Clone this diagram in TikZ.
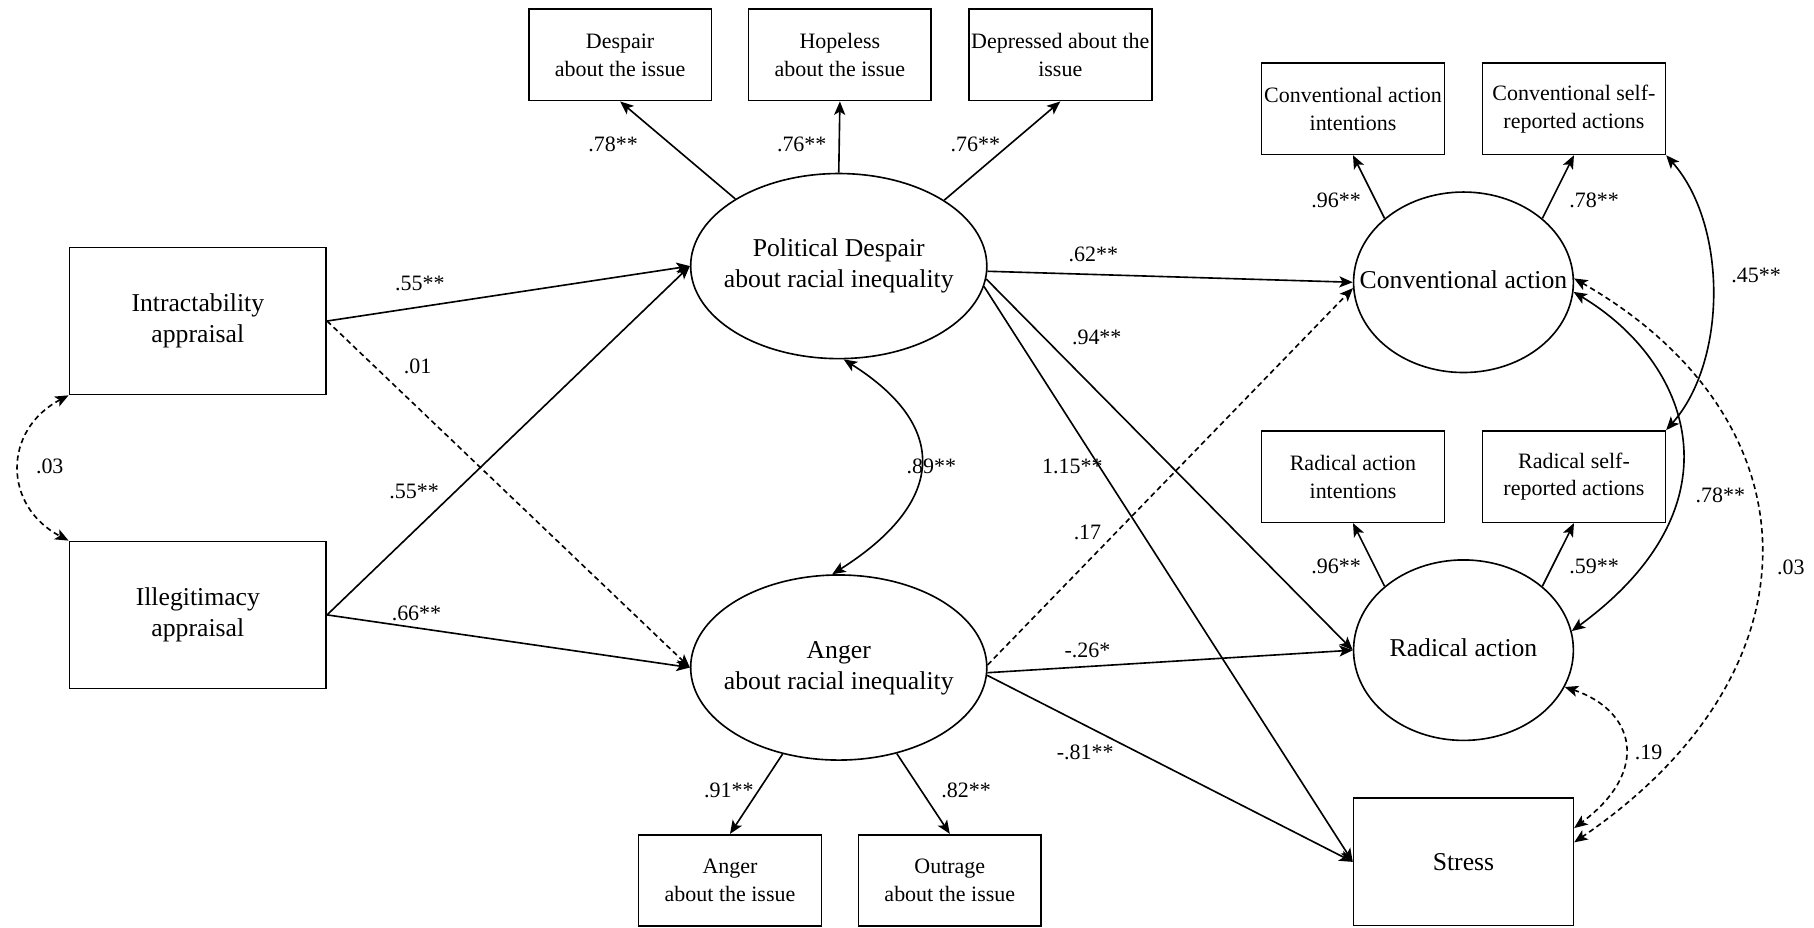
\documentclass[tikz,border=0pt]{standalone}
\usepackage{fontspec}
\setmainfont{Liberation Serif}
\usetikzlibrary{arrows.meta,shapes.geometric}

% text inside an ellipse that should not enlarge the ellipse
\newcommand{\lattext}[1]{\makebox[0pt]{\begin{tabular}{@{}c@{}}#1\end{tabular}}}

\tikzset{
  big/.style={font=\fontsize{11.1}{13.5}\selectfont},
  obs/.style={draw, rectangle, inner sep=0pt, align=center, line width=0.7pt},
  ind/.style={obs, minimum width=79pt, minimum height=39.5pt, font=\fontsize{9.5}{12}\selectfont},
  pred/.style={obs, big, minimum width=111pt, minimum height=63.5pt},
  lat/.style={draw, ellipse, inner sep=0pt, line width=0.7pt, big},
  latbig/.style={lat, minimum width=128pt, minimum height=80pt},
  latsmall/.style={lat, minimum width=95pt, minimum height=78pt},
  coef/.style={font=\fontsize{9.5}{11}\selectfont, inner sep=1pt},
  tip/.tip={Stealth[length=5.8pt,width=4.8pt,inset=1.4pt]},
  arr/.style={-tip, line width=0.7pt},
  cov/.style={tip-tip, line width=0.7pt},
  dsh/.style={dash pattern=on 2.3pt off 1.6pt}
}

\begin{document}
\begin{tikzpicture}[x=0.5pt,y=-0.5pt]
\useasboundingbox (0,0) rectangle (1568,802);

% exogenous appraisals
\node[pred] (intr) at (171,277.5) {Intractability\\appraisal};
\node[pred] (ille) at (171,531.5) {Illegitimacy\\appraisal};

% despair and its indicators
\node[ind] (desp) at (536,47.5) {Despair\\about the issue};
\node[ind] (hope) at (726,47.5) {Hopeless\\about the issue};
\node[ind] (depr) at (916.5,47.5) {Depressed about the\\issue};
\node[latbig] (pd) at (725,230) {\lattext{Political Despair\\about racial inequality}};

% anger and its indicators
\node[latbig] (ang) at (725,577) {\lattext{Anger\\about racial inequality}};
\node[ind] (angb) at (631,761) {Anger\\about the issue};
\node[ind] (outb) at (821,761) {Outrage\\about the issue};

% outcomes
\node[ind] (cai) at (1169.5,94) {Conventional action\\intentions};
\node[ind] (csr) at (1360.5,94) {Conventional self-\\reported actions};
\node[latsmall] (ca) at (1265,244) {\lattext{Conventional action}};
\node[ind] (rai) at (1169.5,412) {Radical action\\intentions};
\node[ind] (rsr) at (1360.5,412) {Radical self-\\reported actions};
\node[latsmall] (ra) at (1265,562) {\lattext{Radical action}};
\node[obs, big, minimum width=95pt, minimum height=55pt] (stress) at (1265,745) {Stress};

% loadings
\draw[arr] (pd.147.5) -- (desp.south);
\draw[arr] (pd.north) -- (hope.south);
\draw[arr] (pd.32) -- (depr.south);
\draw[arr] (ang.-123.5) -- (angb.north);
\draw[arr] (ang.-56) -- (outb.north);
\draw[arr] (ca.141) -- (cai.south);
\draw[arr] (ca.39) -- (csr.south);
\draw[arr] (ra.141) -- (rai.south);
\draw[arr] (ra.39) -- (rsr.south);

% structural paths
\draw[arr] (intr.east) -- (pd.west);
\draw[arr] (ille.east) -- (pd.west);
\draw[arr,dsh] (intr.east) -- (ang.west);
\draw[arr] (ille.east) -- (ang.west);
\draw[arr] (pd.-2) -- (ca.west);
\draw[arr] (pd.-5) -- (ra.west);
\draw[arr] (pd.-8) -- (stress.west);
\draw[arr,dsh] (ang.1.5) -- (ca.-177);
\draw[arr] (ang.-2) -- (ra.west);
\draw[arr] (ang.-3) -- (stress.west);

% covariances
\draw[cov,dsh] (intr.south west) .. controls +(-57,30) and +(-57,-30) .. (ille.north west);
\draw[cov] (pd.-87) .. controls +(95,60) and +(95,-60) .. (ang.94);
\draw[cov] (csr.south east) .. controls +(53,60) and +(53,-60) .. (rsr.north east);
\draw[cov] (ca.-5) .. controls +(100,60) and +(150,-110) .. (ra.10);
\draw[cov,dsh] (ca.2) .. controls +(210,120) and +(220,-150) .. (stress.10);
\draw[cov,dsh] (ra.-20) .. controls +(60,20) and +(67,-50) .. (stress.17.5);

% coefficients
\node[coef] (k1) at (530,125) {.78**};
\node[coef] (k2) at (693,125) {.76**};
\node[coef] (k3) at (843,125) {.76**};
\node[coef] (k4) at (363,245) {.55**};
\node[coef] (k5) at (361,317) {.01};
\node[coef] (k6) at (358,425) {.55**};
\node[coef] (k7) at (360,530) {.66**};
\node[coef] (k8) at (43,403) {.03};
\node[coef] (k9) at (805,403) {.89**};
\node[coef] (k10) at (945,220) {.62**};
\node[coef] (k11) at (948,292) {.94**};
\node[coef] (k12) at (927,403) {1.15**};
\node[coef] (k13) at (940,460) {.17};
\node[coef] (k14) at (940,562) {-.26*};
\node[coef] (k15) at (938,650) {-.81**};
\node[coef] (k16) at (630,683) {.91**};
\node[coef] (k17) at (835,683) {.82**};
\node[coef] (k18) at (1155,173) {.96**};
\node[coef] (k19) at (1378,173) {.78**};
\node[coef] (k20) at (1518,238) {.45**};
\node[coef] (k21) at (1155,490) {.96**};
\node[coef] (k22) at (1378,490) {.59**};
\node[coef] (k23) at (1487,428) {.78**};
\node[coef] (k24) at (1548,490) {.03};
\node[coef] (k25) at (1425,650) {.19};
\end{tikzpicture}
\end{document}
